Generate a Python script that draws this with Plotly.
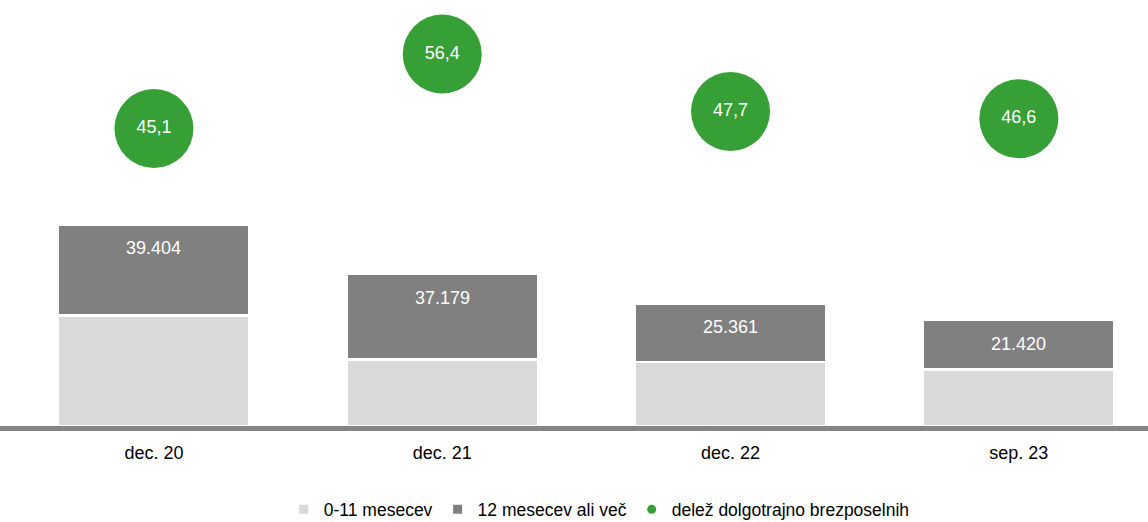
import plotly.graph_objects as go

# ---- data ----
categories = ["dec. 20", "dec. 21", "dec. 22", "sep. 23"]
short_term = [47966, 28741, 27807, 24546]      # 0-11 mesecev
long_term = [39404, 37179, 25361, 21420]       # 12 mesecev ali več
share_long = [45.1, 56.4, 47.7, 46.6]          # delež dolgotrajno brezposelnih

names = ["0-11 mesecev", "12 mesecev ali več", "delež dolgotrajno brezposelnih"]

C_LIGHT = "#d9d9d9"
C_DARK = "#808080"
C_GREEN = "#36a037"
FONT = "Liberation Sans, Arial, sans-serif"

fig = go.Figure()

fig.add_trace(go.Bar(
    x=categories, y=short_term, name=names[0], marker=dict(color=C_LIGHT, line=dict(color="white", width=2.5)),
    width=0.664, showlegend=False, hoverinfo="skip"))
fig.add_trace(go.Bar(
    x=categories, y=long_term, name=names[1], marker=dict(color=C_DARK, line=dict(color="white", width=2.5)),
    width=0.664, showlegend=False, hoverinfo="skip"))

fig.add_trace(go.Scatter(
    x=categories, y=share_long, yaxis="y2", mode="markers+text",
    text=[f"{v:.1f}".replace(".", ",") for v in share_long],
    textposition="middle center",
    textfont=dict(color="white", size=18, family=FONT),
    marker=dict(size=79, color=C_GREEN, line=dict(width=0)),
    showlegend=False, hoverinfo="skip", cliponaxis=False))

# legend entries
for nm, col, sym in [(names[0], C_LIGHT, "square"), (names[1], C_DARK, "square"), (names[2], C_GREEN, "circle")]:
    fig.add_trace(go.Scatter(x=[None], y=[None], mode="markers", name=nm,
                             marker=dict(symbol=sym, size=9, color=col)))

totals = [s + l for s, l in zip(short_term, long_term)]
for c, t, l in zip(categories, totals, long_term):
    fig.add_annotation(x=c, y=t, yref="y", text=f"{l:,}".replace(",", "."),
                       showarrow=False, yshift=-24, font=dict(color="white", size=18, family=FONT))

fig.update_layout(
    width=1148, height=522,
    margin=dict(l=0, r=0, t=0, b=95.5, autoexpand=False),
    barmode="stack",
    plot_bgcolor="white", paper_bgcolor="white",
    font=dict(family=FONT, size=18, color="black"),
    xaxis=dict(range=[-0.534, 3.448], showline=True, linecolor="#858585", linewidth=5,
               showgrid=False, zeroline=False, ticks="", ticklabelstandoff=6,
               tickfont=dict(size=18, family=FONT), automargin=False),
    yaxis=dict(range=[0, 184700], visible=False, showgrid=False, zeroline=False),
    yaxis2=dict(range=[0, 64.6], overlaying="y", visible=False, showgrid=False, zeroline=False),
    legend=dict(orientation="h", x=0.522, xanchor="center", yref="container", y=0.024, yanchor="middle",
                font=dict(size=17.5, family=FONT), itemwidth=30, tracegroupgap=0,
                traceorder="normal"),
)

fig.write_html("out.html", config={"displayModeBar": False},
               post_script="document.body.style.margin='0';")
